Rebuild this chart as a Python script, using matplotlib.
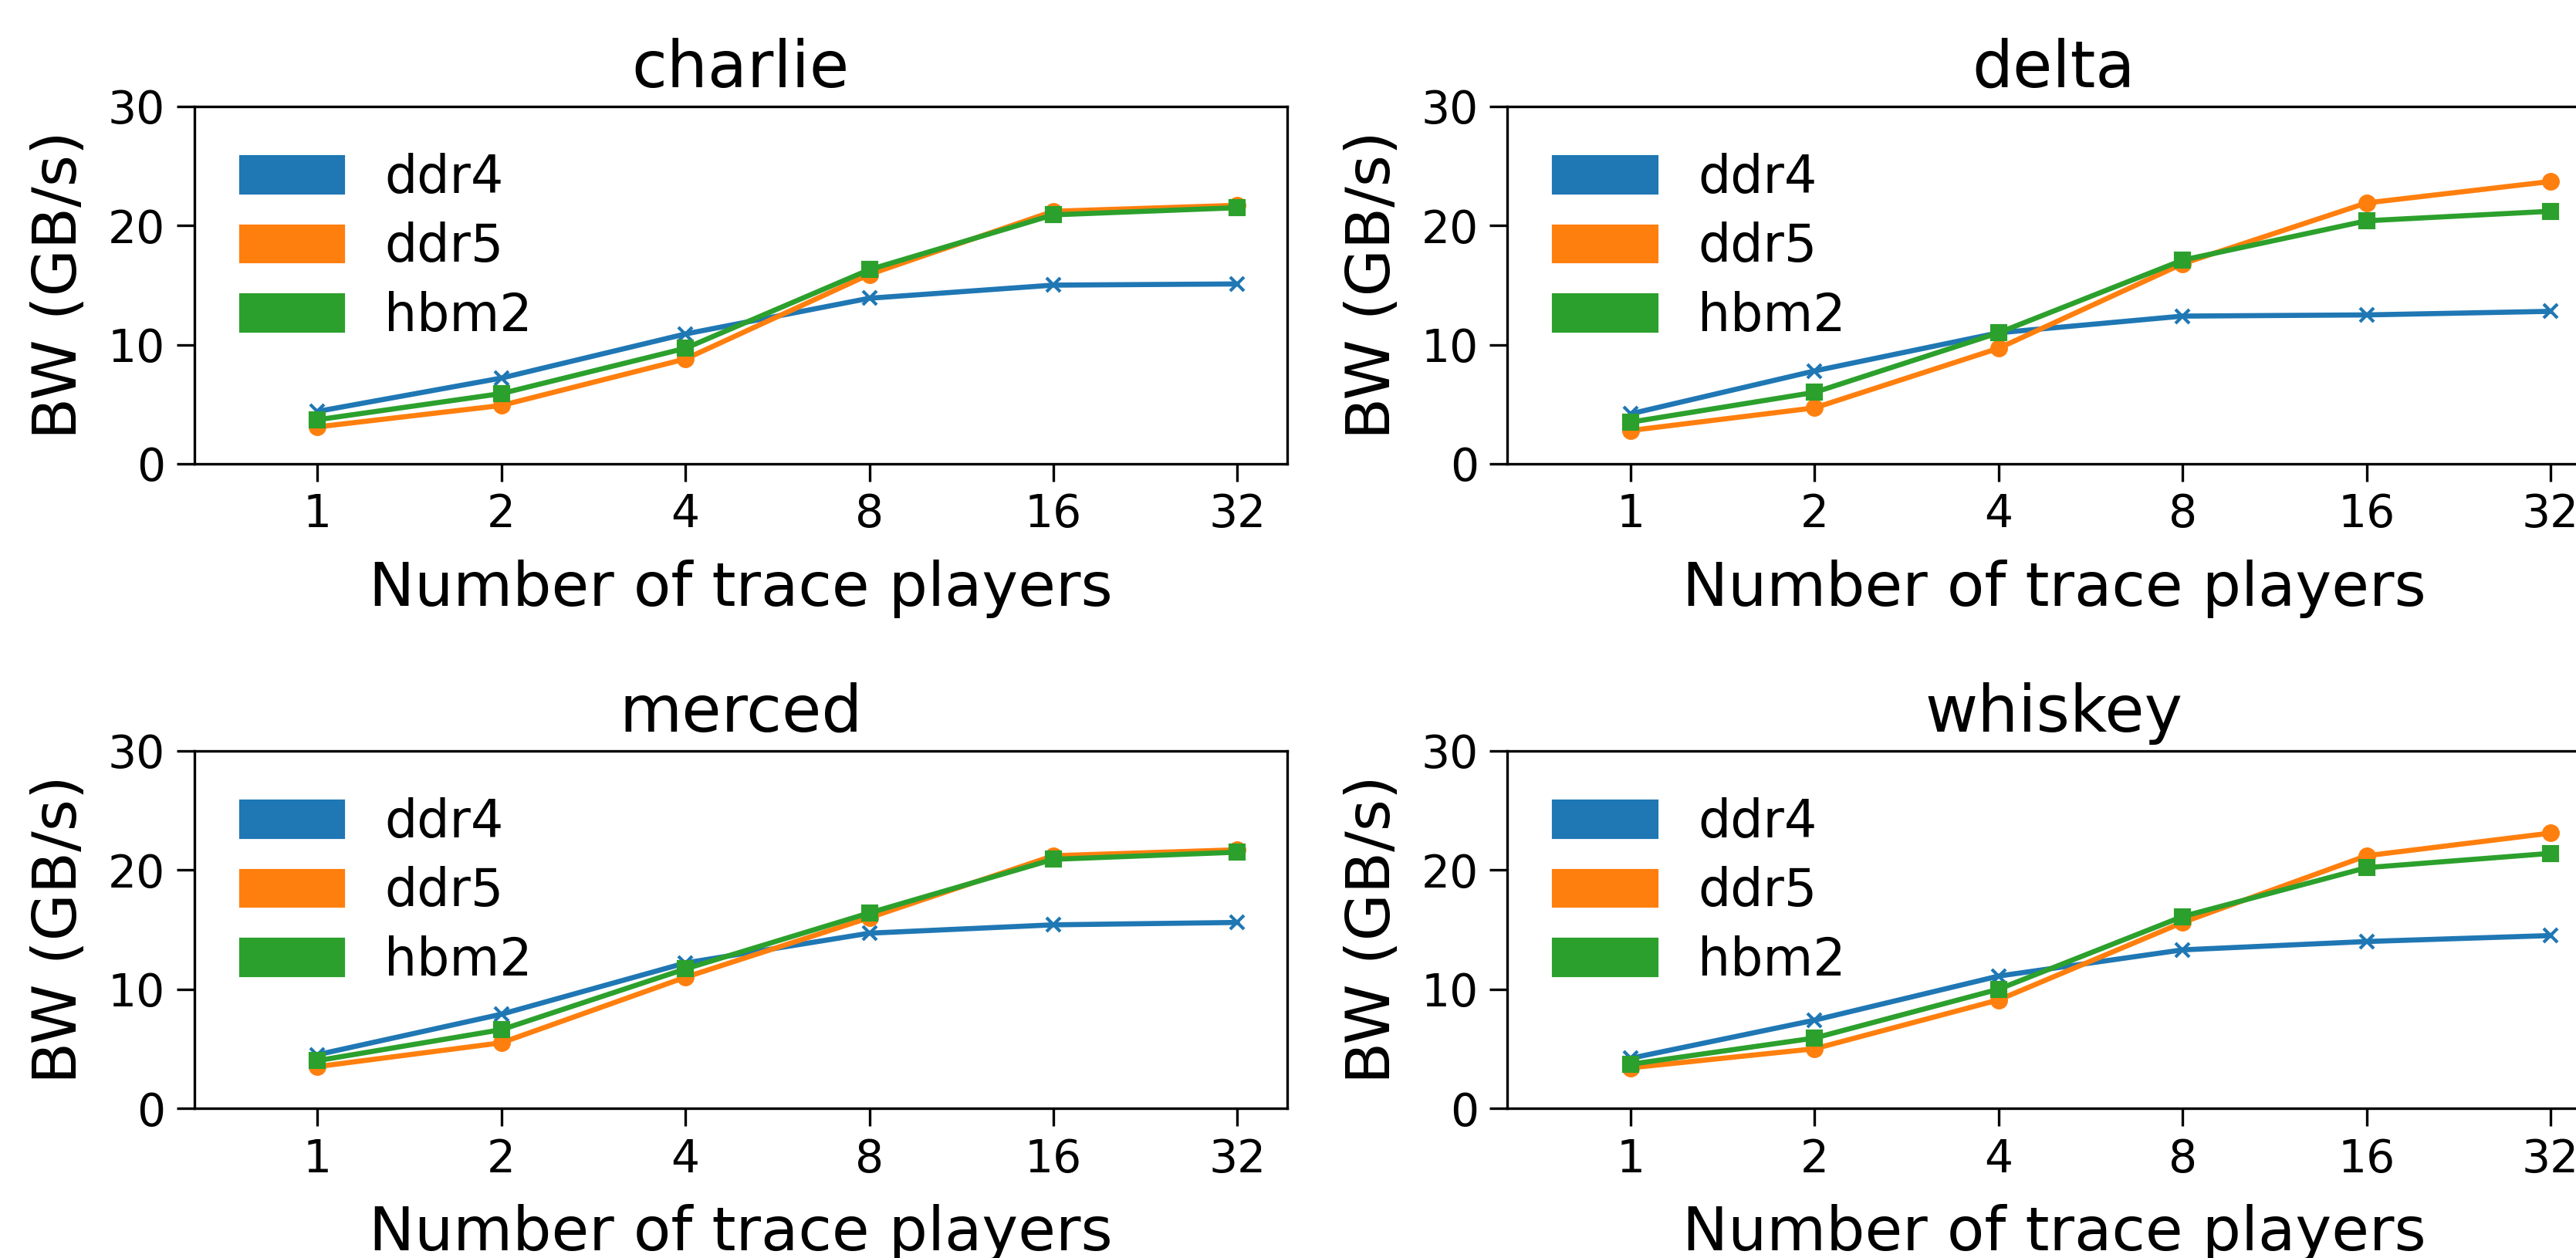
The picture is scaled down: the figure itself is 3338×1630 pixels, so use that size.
import matplotlib
matplotlib.use("Agg")
import matplotlib.pyplot as plt
from matplotlib.patches import Patch

players = ["1", "2", "4", "8", "16", "32"]
memories = ["ddr4", "ddr5", "hbm2"]
markers = ["x", "o", "s"]
colors = ["C0", "C1", "C2"]

# bandwidth (GB/s) per workload, one list per memory type
charlie_ddr4 = [4.4, 7.2, 10.9, 13.9, 15.0, 15.1]
charlie_ddr5 = [3.1, 4.9, 8.8, 15.9, 21.2, 21.7]
charlie_hbm2 = [3.7, 5.9, 9.7, 16.3, 20.9, 21.5]

delta_ddr4 = [4.2, 7.8, 11.0, 12.4, 12.5, 12.8]
delta_ddr5 = [2.8, 4.7, 9.7, 16.8, 21.9, 23.7]
delta_hbm2 = [3.5, 6.0, 11.0, 17.1, 20.4, 21.2]

merced_ddr4 = [4.5, 7.9, 12.2, 14.7, 15.4, 15.6]
merced_ddr5 = [3.5, 5.5, 11.0, 16.0, 21.2, 21.7]
merced_hbm2 = [4.0, 6.6, 11.7, 16.4, 20.9, 21.5]

whiskey_ddr4 = [4.2, 7.4, 11.1, 13.3, 14.0, 14.5]
whiskey_ddr5 = [3.4, 5.0, 9.1, 15.6, 21.2, 23.1]
whiskey_hbm2 = [3.7, 5.9, 10.0, 16.1, 20.2, 21.4]

workloads = {
    "charlie": [charlie_ddr4, charlie_ddr5, charlie_hbm2],
    "delta": [delta_ddr4, delta_ddr5, delta_hbm2],
    "merced": [merced_ddr4, merced_ddr5, merced_hbm2],
    "whiskey": [whiskey_ddr4, whiskey_ddr5, whiskey_hbm2],
}

fig = plt.figure(figsize=(3338 / 300, 1630 / 300), dpi=300)

w, h = 0.4242, 0.2841
positions = [
    [0.0754, 0.6313, w, h],
    [0.5852, 0.6313, w, h],
    [0.0754, 0.1190, w, h],
    [0.5852, 0.1190, w, h],
]

xs = list(range(len(players)))
for pos, (name, series) in zip(positions, workloads.items()):
    ax = fig.add_axes(pos)
    for vals, mem, mk, c in zip(series, memories, markers, colors):
        ax.plot(xs, vals, marker=mk, color=c, label=mem, markersize=4.5, linewidth=1.6)
    ax.set_xticks(xs)
    ax.set_xticklabels(players)
    ax.set_xlim(-0.67, 5.27)
    ax.set_ylim(0, 30)
    ax.set_yticks([0, 10, 20, 30])
    ax.tick_params(labelsize=14, length=5.5)
    ax.set_title(name, fontsize=20)
    ax.set_xlabel("Number of trace players", fontsize=19, labelpad=7)
    ax.set_ylabel("BW (GB/s)", fontsize=19, labelpad=6)
    handles = [Patch(color=c, label=m) for m, c in zip(memories, colors)]
    ax.legend(handles=handles, loc="upper left", frameon=False, fontsize=16,
              labelspacing=0.35)

fig.savefig("out.png", dpi=300)
